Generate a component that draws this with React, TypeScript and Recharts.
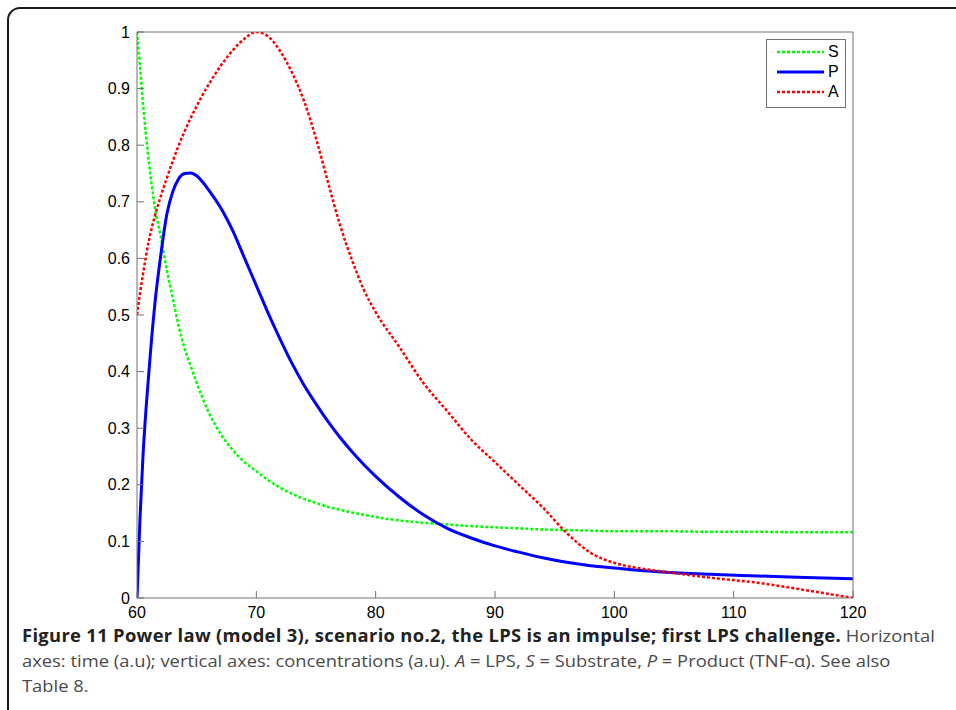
import React from 'react';
import { LineChart, Line, XAxis, YAxis } from 'recharts';

// time (a.u.) and the three concentrations
const time = [
  60, 60.25, 60.5, 61, 61.5, 62, 62.5, 63, 63.5, 64, 64.5, 65, 65.5, 66, 66.5, 67, 67.5, 68, 69, 70,
  71, 72, 73, 74, 75, 76, 77, 78, 79, 80, 82, 84, 86, 88, 90, 92, 94, 96, 98, 100, 102, 104, 108,
  112, 116, 120,
];

const substrate = [
  1.0, 0.94, 0.875, 0.77, 0.69, 0.638, 0.58, 0.53, 0.48, 0.44, 0.41, 0.38, 0.353, 0.328, 0.308,
  0.29, 0.275, 0.262, 0.24, 0.224, 0.208, 0.195, 0.184, 0.175, 0.168, 0.161, 0.156, 0.151, 0.147,
  0.143, 0.137, 0.133, 0.13, 0.127, 0.125, 0.123, 0.121, 0.12, 0.119, 0.118, 0.118, 0.118, 0.117,
  0.117, 0.116, 0.116,
];

const product = [
  0, 0.14, 0.25, 0.4, 0.52, 0.607, 0.678, 0.718, 0.741, 0.75, 0.751, 0.746, 0.735, 0.721, 0.706,
  0.69, 0.671, 0.65, 0.601, 0.552, 0.503, 0.457, 0.414, 0.376, 0.343, 0.312, 0.284, 0.259, 0.236,
  0.215, 0.178, 0.147, 0.123, 0.106, 0.092, 0.081, 0.071, 0.063, 0.057, 0.053, 0.049, 0.046, 0.042,
  0.039, 0.036, 0.034,
];

const lps = [
  0.5, 0.538, 0.572, 0.632, 0.675, 0.71, 0.742, 0.772, 0.8, 0.825, 0.848, 0.869, 0.889, 0.907,
  0.924, 0.94, 0.954, 0.967, 0.988, 1.0, 0.992, 0.966, 0.928, 0.878, 0.812, 0.735, 0.66, 0.598,
  0.545, 0.505, 0.443, 0.38, 0.33, 0.28, 0.24, 0.2, 0.16, 0.115, 0.08, 0.062, 0.053, 0.047, 0.036,
  0.027, 0.014, 0,
];

const xTicks = [60, 70, 80, 90, 100, 110, 120];
const yTicks = [0, 0.1, 0.2, 0.3, 0.4, 0.5, 0.6, 0.7, 0.8, 0.9, 1];

const seriesNames = ['S', 'P', 'A'];
const seriesColors = ['#00ff00', '#0000ff', '#ff0000'];
const seriesDash = ['3 2', undefined, '3 2'];

const data = time.map((t, i) => ({
  t,
  S: substrate[i],
  P: product[i],
  A: lps[i],
}));

const AXIS = '#707070';
const TICK_FAMILY = '"Liberation Sans", Arial, sans-serif';

// plain svg text so the font size is exactly what we ask for
function BottomTick(props: any) {
  const { x, y, payload } = props;
  return (
    <text x={x} y={y + 15} textAnchor="middle" fontSize={16} fontFamily={TICK_FAMILY} fill="#000">
      {payload.value}
    </text>
  );
}

function LeftTick(props: any) {
  const { x, y, payload } = props;
  return (
    <text x={x} y={y + 5.5} textAnchor="end" fontSize={16} fontFamily={TICK_FAMILY} fill="#000">
      {payload.value}
    </text>
  );
}

function MatlabLegend() {
  return (
    <div
      style={{
        position: 'absolute',
        left: 766,
        top: 39,
        width: 78,
        height: 65,
        border: `1px solid ${AXIS}`,
        background: '#fff',
        fontFamily: TICK_FAMILY,
        fontSize: 16,
        paddingTop: 2,
        boxSizing: 'content-box',
      }}
    >
      {seriesNames.map((name, i) => (
        <div key={name} style={{ display: 'flex', alignItems: 'center', height: 20 }}>
          <svg width={57} height={20}>
            <line
              x1={10}
              x2={57}
              y1={10}
              y2={10}
              stroke={seriesColors[i]}
              strokeWidth={name === 'P' ? 3 : 2.5}
              strokeDasharray={seriesDash[i]}
            />
          </svg>
          <span style={{ marginLeft: 4 }}>{name}</span>
        </div>
      ))}
    </div>
  );
}

export default function App() {
  return (
    <div
      style={{
        position: 'absolute',
        left: 0,
        top: 0,
        width: 956,
        height: 710,
        overflow: 'hidden',
        background: '#fff',
      }}
    >
      <div
        style={{
          position: 'absolute',
          left: 7,
          top: 7,
          width: 980,
          height: 740,
          border: '2px solid #1a1a1a',
          borderRadius: 13,
        }}
      />
      <div style={{ position: 'absolute', left: 0, top: 0 }}>
        <LineChart
          width={956}
          height={620}
          data={data}
          margin={{ top: 22, right: 93, bottom: 0, left: 97 }}
        >
          <XAxis
            xAxisId="bottom"
            dataKey="t"
            type="number"
            domain={[60, 120]}
            ticks={xTicks}
            allowDataOverflow
            height={22}
            tickSize={-7}
            tickMargin={12}
            stroke={AXIS}
            tick={<BottomTick />}
          />
          <XAxis
            xAxisId="top"
            orientation="top"
            dataKey="t"
            type="number"
            domain={[60, 120]}
            ticks={xTicks}
            allowDataOverflow
            height={10}
            tickSize={-7}
            tick={false}
            stroke={AXIS}
          />
          <YAxis
            yAxisId="left"
            type="number"
            domain={[0, 1]}
            ticks={yTicks}
            allowDataOverflow
            width={40}
            tickSize={-7}
            tickMargin={14}
            stroke={AXIS}
            interval={0}
            tick={<LeftTick />}
          />
          <YAxis
            yAxisId="right"
            orientation="right"
            type="number"
            domain={[0, 1]}
            ticks={yTicks}
            allowDataOverflow
            width={10}
            tickSize={-7}
            tick={false}
            stroke={AXIS}
          />
          {seriesNames.map((name, i) => (
            <Line
              key={name}
              xAxisId="bottom"
              yAxisId="left"
              dataKey={name}
              type="monotone"
              stroke={seriesColors[i]}
              strokeWidth={name === 'P' ? 3 : 2.5}
              strokeDasharray={seriesDash[i]}
              dot={false}
              isAnimationActive={false}
            />
          ))}
        </LineChart>
      </div>
      <MatlabLegend />
      <div
        style={{
          position: 'absolute',
          left: 22,
          top: 623,
          fontFamily: '"Open Sans", sans-serif',
          fontSize: 17,
          lineHeight: '25px',
          color: '#4a4a4a',
          whiteSpace: 'nowrap',
          transform: 'scaleX(1.08)',
          transformOrigin: 'left top',
        }}
      >
        <div>
          <span style={{ fontWeight: 700, color: '#222', letterSpacing: 0.3 }}>
            Figure 11 Power law (model 3), scenario no.2, the LPS is an impulse; first LPS challenge.
          </span>{' '}
          Horizontal
        </div>
        <div>
          axes: time (a.u); vertical axes: concentrations (a.u). <i>A</i> = LPS, <i>S</i> = Substrate,{' '}
          <i>P</i> = Product (TNF-α). See also
        </div>
        <div>Table 8.</div>
      </div>
    </div>
  );
}
